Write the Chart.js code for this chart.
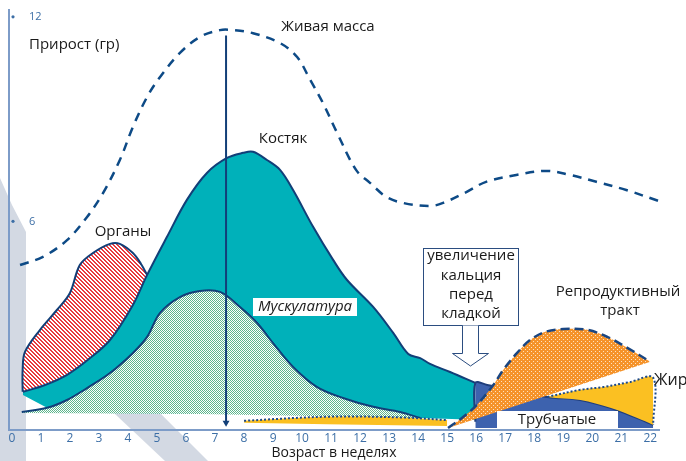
<!DOCTYPE html>
<html><head><meta charset="utf-8">
<script src="https://cdn.jsdelivr.net/npm/chart.js@4.4.0/dist/chart.umd.min.js"></script>
<style>html,body{margin:0;padding:0;background:#fff;}#wrap{width:686px;height:461px;}</style>
</head><body><div id="wrap"><canvas id="c" width="686" height="461"></canvas></div>
<script>
// ---- data (x = week, y = gain, g) ----
const weeks = [0,1,2,3,4,5,6,7,8,9,10,11,12,13,14,15,16,17,18,19,20,21,22];
const yTicks = [6, 12];
const xTitle = 'Возраст в неделях';
const yTitle = 'Прирост (гр)';

const liveMass = [[0.28,4.72],[1.07,4.96],[1.90,5.45],[2.59,6.13],[3.14,6.83],[3.72,7.80],[4.17,8.77],[4.66,9.65],[5.10,10.23],[5.79,10.94],[6.48,11.41],[7.17,11.61],[7.62,11.61],[8.31,11.52],[9.24,11.23],[9.83,10.82],[10.28,10.15],[10.72,9.47],[11.21,8.59],[11.86,7.51],[12.34,7.13],[12.90,6.72],[13.48,6.54],[14.41,6.45],[14.86,6.54],[15.66,6.86],[16.34,7.16],[17.38,7.36],[18.41,7.48],[19.24,7.36],[20.14,7.16],[21.17,6.92],[22.28,6.60]];
const skeleton = [[0.38,1.00],[1.14,1.20],[1.90,1.50],[2.62,1.94],[3.38,2.52],[4.17,3.55],[4.66,4.43],[5.34,5.54],[6.03,6.63],[6.72,7.42],[7.41,7.86],[7.97,8.01],[8.31,8.04],[8.79,7.80],[9.24,7.51],[9.69,6.92],[10.38,5.84],[11.07,4.87],[11.55,4.28],[12.45,3.49],[13.14,2.73],[13.66,2.11],[14.07,1.99],[14.41,1.82],[15.10,1.58],[15.97,1.26]];
const skeletonBase = [[0.38,0.91],[1.21,0.53],[3.03,0.38],[9.93,0.35],[14.07,0.23],[15.97,0.18]];
const organs = [[0.37,1.00],[0.37,1.64],[0.45,2.17],[0.97,2.82],[1.55,3.40],[2.00,3.90],[2.34,4.72],[2.79,5.07],[3.38,5.34],[3.72,5.34],[4.17,5.07],[4.45,4.75],[4.66,4.43]];
const muscle = [[0.34,0.41],[1.21,0.53],[1.90,0.76],[2.59,1.11],[3.38,1.55],[4.17,2.14],[4.66,2.61],[5.10,3.31],[5.79,3.78],[6.48,3.96],[7.17,3.93],[7.86,3.49],[8.45,3.02],[9.00,2.43],[9.69,1.73],[10.52,1.14],[11.41,0.82],[12.45,0.56],[13.38,0.41],[14.07,0.23]];
const muscleBase = [[0.34,0.38],[6.48,0.35],[14.07,0.23]];
const fatStrip = [[8.0,0.15],[10.86,0.27],[13.4,0.25],[15.0,0.17]];
const fatStripBase = [[8.0,0.09],[10.86,0.05],[15.0,0.0]];
const tubular = [[15.97,0.12],[15.97,1.26],[16.38,1.20],[17.34,1.06],[18.45,0.85],[19.59,0.76],[20.62,0.53],[21.55,0.23],[22.10,0.03]];
const tubularBase = [[15.97,-0.06],[22.10,-0.06]];
const fat = [[18.45,0.85],[19.59,1.06],[20.38,1.14],[21.31,1.29],[22.10,1.41],[22.10,0.03]];
const repro = [[15.03,-0.06],[15.55,0.26],[16.03,0.62],[16.59,1.20],[16.93,1.64],[17.41,2.14],[17.86,2.52],[18.38,2.76],[19.00,2.84],[19.83,2.82],[20.52,2.61],[21.21,2.29],[22.00,1.88]];
const reproBase = [[15.03,-0.06],[22.00,1.88]];
const layArrow = [[7.38,11.45],[7.38,0.09]];

const pts = a => a.map(([x,y]) => ({x, y}));
const canvas = document.getElementById('c');
const ctx = canvas.getContext('2d');

function pattern(w, h, draw){
  const c = document.createElement('canvas'); c.width = w; c.height = h;
  const g = c.getContext('2d'); draw(g); return ctx.createPattern(c, 'repeat');
}
const redHatch = pattern(4,4,g=>{
  g.fillStyle='#fff'; g.fillRect(0,0,4,4);
  g.fillStyle='#e8393e';
  for(let y=0;y<4;y++){ g.fillRect(y,y,1,1); g.fillRect((y+1)%4,y,1,1); }
});
const greenDots = pattern(2,2,g=>{
  g.fillStyle='#fff'; g.fillRect(0,0,2,2);
  g.fillStyle='#5cb68c';
  g.fillRect(0,0,1,1); g.fillRect(1,1,1,1);
});
const orangeDots = pattern(4,4,g=>{
  g.fillStyle='#f5932a'; g.fillRect(0,0,4,4);
  g.fillStyle='rgba(255,235,210,0.9)';
  g.fillRect(1,1,1,1); g.fillRect(3,3,1,1);
});

const DARK = '#123f78';
const base = (data) => ({data: pts(data), borderWidth: 0, borderColor: 'rgba(0,0,0,0)', pointRadius: 0, fill: false, tension: 0});

const ds = [];
function add(o){ ds.push(o); return ds.length - 1; }

const iSkelBase = add({...base(skeletonBase), order: 20});
const iSkel = add({label:'Костяк', data: pts(skeleton), borderColor: DARK, borderWidth: 2, backgroundColor: '#00b1ba', fill: {target: iSkelBase}, order: 11});
add({label:'Органы', data: pts(organs), borderColor: DARK, borderWidth: 2, backgroundColor: redHatch, fill: {target: iSkel}, order: 13});
const iMusBase = add({...base(muscleBase), order: 20});
add({label:'Мускулатура', data: pts(muscle), borderColor: DARK, borderWidth: 2, backgroundColor: greenDots, fill: {target: iMusBase}, order: 9});
const iStripBase = add({...base(fatStripBase), order: 20});
add({label:'Жир', data: pts(fatStrip), borderColor: '#1d4a8a', borderWidth: 2, borderDash: [2,2], backgroundColor: '#fbc022', fill: {target: iStripBase}, order: 8});
const iTubBase = add({...base(tubularBase), order: 20});
const iTub = add({label:'Трубчатые', data: pts(tubular), borderColor: '#1f3e7c', borderWidth: 2, backgroundColor: '#3d62ae', fill: {target: iTubBase}, order: 6});
add({label:'Жир', data: pts(fat), borderColor: '#1d4a8a', borderWidth: 2, borderDash: [2,2], backgroundColor: '#fbc022', fill: {target: iTub}, order: 4});
const iReproBase = add({...base(reproBase), order: 20});
add({label:'Репродуктивный тракт', data: pts(repro), borderColor: '#1a4682', borderWidth: 2.5, borderDash: [9,5], backgroundColor: orangeDots, fill: {target: iReproBase}, order: 2});
add({label:'Живая масса', data: pts(liveMass), borderColor: '#0d4a86', borderWidth: 2.5, borderDash: [9,7], fill: false, order: 0});
add({label:'arrow', data: pts(layArrow), borderColor: DARK, borderWidth: 2, tension: 0, fill: false, order: 1,
     pointRadius: [0,4], pointStyle: 'triangle', rotation: 180, pointBackgroundColor: DARK, pointBorderColor: DARK, pointBorderWidth: 0});

const FONT = 'Open Sans';
const annot = {
  id: 'annot',
  beforeDraw(chart){
    const c = chart.ctx; c.save(); c.fillStyle = '#fff'; c.fillRect(0,0,chart.width,chart.height);
    c.fillStyle = '#d3d9e3';
    c.beginPath(); c.moveTo(0,178); c.lineTo(12,205); c.lineTo(26,232); c.lineTo(26,461); c.lineTo(0,461); c.closePath(); c.fill();
    c.beginPath(); c.moveTo(98,398); c.lineTo(145,398); c.lineTo(208,461); c.lineTo(165,461); c.closePath(); c.fill();
    c.restore();
  },
  afterDraw(chart){
    const c = chart.ctx, ys = chart.scales.y;
    c.save();
    c.fillStyle = '#3d6fa6';
    yTicks.forEach(v => { c.beginPath(); c.arc(13, ys.getPixelForValue(v), 1.6, 0, Math.PI*2); c.fill(); });
    const txt = (t, x, y, size, align='center', style='') => {
      c.font = `${style} ${size}px "${FONT}"`; c.textAlign = align; c.textBaseline = 'middle'; c.fillStyle = '#1a1a1a';
      c.fillText(t, x, y);
    };
    txt(yTitle, 29, 45, 15, 'left');
    txt('Живая масса', 328, 27, 15);
    txt('Костяк', 283, 139, 15);
    txt('Органы', 123, 232, 15);
    c.fillStyle = '#fff'; c.fillRect(253, 298, 104, 18);
    txt('Мускулатура', 305, 307, 15, 'center', 'italic');
    c.fillStyle = '#fff'; c.fillRect(497, 411, 121, 17);
    txt('Трубчатые', 557, 419.5, 15);
    txt('Репродуктивный', 618, 292, 15);
    txt('тракт', 620, 311, 15);
    txt('Жир', 654, 380, 16, 'left');
    c.fillStyle = '#fff'; c.strokeStyle = '#2b4d80'; c.lineWidth = 1;
    c.fillRect(423.5, 248.5, 95, 77); c.strokeRect(423.5, 248.5, 95, 77);
    ['увеличение','кальция','перед','кладкой'].forEach((t,i) => txt(t, 471, 256 + i*19.3, 15));
    c.beginPath();
    c.moveTo(462.5, 325.5); c.lineTo(462.5, 353.5); c.lineTo(452.5, 353.5); c.lineTo(470.5, 366);
    c.lineTo(488.5, 353.5); c.lineTo(478.5, 353.5); c.lineTo(478.5, 325.5);
    c.fillStyle = '#fff'; c.fill(); c.strokeStyle = '#2b4d80'; c.stroke();
    c.restore();
  }
};

new Chart(ctx, {
  type: 'line',
  data: { datasets: ds },
  options: {
    responsive: false, animation: false, devicePixelRatio: 1,
    layout: { padding: { left: 9, top: 10, right: 27, bottom: 0 } },
    plugins: { legend: { display: false }, tooltip: { enabled: false }, filler: { propagate: false } },
    elements: { point: { radius: 0 }, line: { tension: 0.35 } },
    scales: {
      x: {
        type: 'linear', min: -0.1, max: 22.3,
        afterBuildTicks: s => { s.ticks = weeks.map(v => ({value: v})); },
        afterFit: s => { s.height = 31; s.paddingLeft = 0; s.paddingRight = 0; },
        grid: { display: false, drawTicks: false },
        border: { display: true, color: '#7d9cc8', width: 2 },
        ticks: { color: '#3d6fa6', font: { family: FONT, size: 12 }, padding: 1, maxRotation: 0, autoSkip: false },
        title: { display: true, text: xTitle, color: '#1a1a1a', font: { family: FONT, size: 14 }, padding: { top: 0, bottom: 0 } }
      },
      y: {
        type: 'linear', min: -0.12, max: 12.2,
        afterBuildTicks: s => { s.ticks = yTicks.map(v => ({value: v})); },
        afterFit: s => { s.width = 0; s.paddingTop = 0; s.paddingBottom = 0; },
        grid: { display: false, drawTicks: false },
        border: { display: true, color: '#7d9cc8', width: 2 },
        ticks: { mirror: true, padding: 20, color: '#3d6fa6', font: { family: FONT, size: 11 } }
      }
    }
  },
  plugins: [annot]
});
</script></body></html>
